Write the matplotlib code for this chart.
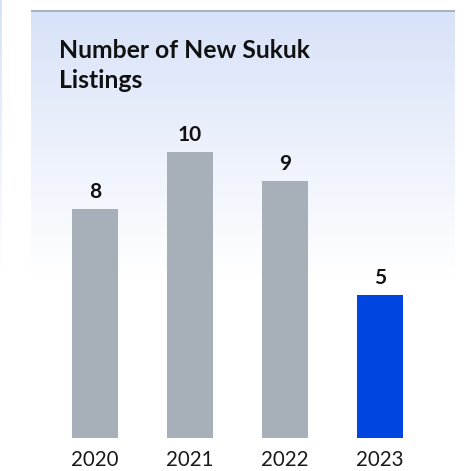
import matplotlib
matplotlib.use("Agg")
import matplotlib.pyplot as plt
import numpy as np

# data
years = ["2020", "2021", "2022", "2023"]
listings = [8, 10, 9, 5]
bar_colors = ["#a7b0b9", "#a7b0b9", "#a7b0b9", "#0045e0"]
title_lines = ["Number of New Sukuk", "Listings"]

plt.rcParams["font.family"] = ["Lato", "DejaVu Sans"]

W = H = 471
fig = plt.figure(figsize=(W / 100, H / 100), dpi=100)
fig.patch.set_facecolor("white")

# background layer in pixel coords (y down)
bg = fig.add_axes([0, 0, 1, 1])
bg.set_xlim(0, W)
bg.set_ylim(H, 0)
bg.axis("off")

# vertical gradient: light blue at the top -> white
top = np.array([216, 226, 248]) / 255
n = 300
t = np.linspace(0, 1, n)
grad = top[None, :] * (1 - t[:, None]) + np.ones(3)[None, :] * t[:, None]
grad = grad[:, None, :]
bg.imshow(grad, extent=[31, 455, 275, 11], aspect="auto", interpolation="bilinear", zorder=0)
bg.imshow(grad, extent=[0, 2, 275, 0], aspect="auto", interpolation="bilinear", zorder=0)
bg.plot([31, 455], [11, 11], color="#a9b3bf", lw=1.5, solid_capstyle="butt", zorder=1)

for i, line in enumerate(title_lines):
    bg.text(59, 51 + 29 * i, line, fontsize=17.8, fontweight="bold", color="#111111",
            va="center", ha="left")

# bar chart
step = 95.0
unit = 28.6
ax = fig.add_axes([0, 33 / H, 1, 1 - 33 / H])
ax.patch.set_alpha(0)
x = np.arange(len(years))
ax.bar(x, listings, width=46 / step, color=bar_colors, zorder=2)
ax.set_xlim(-95 / step, (W - 95) / step)
ax.set_ylim(0, (H - 33) / unit)
for xi, v in zip(x, listings):
    ax.text(xi, v + 17 / unit, str(v), ha="center", va="center",
            fontsize=15, fontweight="bold", color="#111111")
ax.set_xticks(x)
ax.set_xticklabels(years, fontsize=14.8, color="#1a1a1a")
ax.tick_params(axis="x", length=0, pad=9)
ax.set_yticks([])
for s in ax.spines.values():
    s.set_visible(False)

fig.savefig("out.png", dpi=100)
